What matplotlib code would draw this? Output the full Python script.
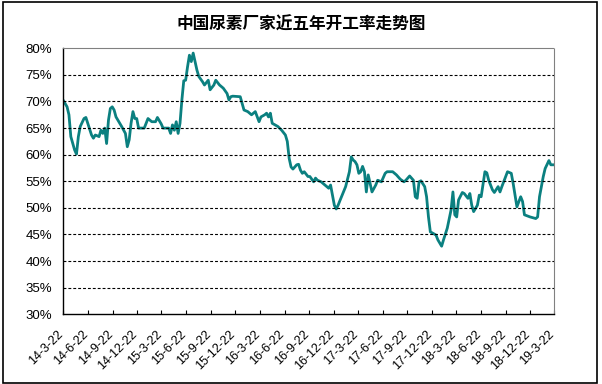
import numpy as np
import pandas as pd
import matplotlib
matplotlib.use("Agg")
import matplotlib.pyplot as plt
import matplotlib.transforms as mtransforms
from matplotlib.patches import Rectangle

plt.rcParams['font.family'] = ['Liberation Sans', 'DejaVu Sans']

# weekly operating rate, weeks counted from the first observation
start = pd.Timestamp('2014-03-22')
weeks = [0, 2, 3, 4, 6, 7, 8, 9, 11, 12, 13, 15, 16, 17, 19, 20, 21, 22, 23, 24,
         25, 26, 27, 28, 29, 31, 33, 34, 35, 36, 37, 38, 39, 40, 43, 44, 45, 47, 49, 50,
         52, 53, 56, 57, 58, 59, 60, 61, 62, 63, 64, 65, 66, 67, 68, 69, 70, 71, 72, 74,
         75, 77, 78, 80, 81, 83, 85, 87, 88, 89, 90, 94, 96, 98, 100, 102, 104, 105, 107, 108,
         109, 110, 111, 114, 116, 118, 119, 120, 121, 122, 124, 125, 126, 127, 128, 130, 131, 133, 134, 135,
         137, 139, 141, 142, 143, 144, 145, 146, 147, 150, 152, 153, 154, 155, 156, 157, 158, 159, 160, 161,
         162, 164, 166, 167, 169, 171, 172, 175, 177, 179, 181, 182, 184, 186, 187, 188, 189, 190, 192, 193,
         194, 195, 198, 199, 201, 202, 204, 206, 207, 208, 209, 210, 212, 213, 215, 216, 217, 218, 220, 221,
         222, 224, 225, 226, 228, 229, 231, 232, 233, 235, 236, 238, 239, 241, 243, 244, 245, 248, 251, 252,
         253, 255, 256, 258, 259, 260]
rate = [70.2, 69.0, 67.5, 63.4, 60.9, 60.1, 63.4, 65.3, 66.8, 67.0, 65.9, 63.7, 63.1, 63.7, 63.4, 64.6, 64.0, 65.0, 62.1, 66.5,
        68.7, 69.0, 68.4, 67.1, 66.5, 65.3, 64.0, 61.5, 62.8, 65.9, 68.1, 66.8, 66.8, 65.0, 65.0, 65.9, 66.8, 66.2, 66.2, 67.0,
        65.8, 65.0, 65.0, 64.0, 65.6, 64.6, 66.2, 64.0, 65.9, 70.3, 73.9, 74.0, 76.5, 78.7, 77.5, 79.1, 77.5, 75.9, 74.7, 73.7,
        73.1, 74.0, 72.2, 73.1, 74.0, 73.1, 72.5, 71.5, 70.3, 70.9, 71.0, 70.9, 68.4, 68.1, 67.5, 68.1, 66.2, 67.1, 67.5, 67.8,
        67.1, 67.8, 65.9, 65.3, 64.6, 63.7, 62.5, 59.3, 57.7, 57.3, 58.1, 58.2, 57.1, 56.5, 56.8, 55.9, 55.9, 54.9, 55.6, 55.2,
        54.9, 54.3, 53.7, 54.3, 52.4, 50.5, 49.8, 50.5, 51.4, 54.0, 56.8, 59.6, 59.0, 58.7, 58.1, 56.5, 56.8, 57.8, 56.8, 53.0,
        56.2, 53.0, 54.3, 55.2, 54.9, 56.5, 56.8, 56.8, 56.2, 55.4, 54.9, 55.2, 56.0, 55.2, 52.1, 51.8, 54.9, 55.1, 54.0, 52.1,
        48.3, 45.5, 44.9, 44.0, 42.8, 44.0, 46.2, 49.6, 53.0, 48.7, 48.3, 51.5, 52.9, 52.7, 51.8, 52.7, 50.5, 49.3, 50.5, 52.4,
        52.1, 56.8, 56.6, 55.2, 53.4, 52.9, 54.0, 53.0, 54.0, 55.9, 56.8, 56.5, 54.6, 50.2, 52.1, 51.2, 48.7, 48.3, 48.0, 48.3,
        52.1, 55.9, 57.4, 58.9, 58.1, 58.1]

tick_labels = ['14-3-22', '14-6-22', '14-9-22', '14-12-22', '15-3-22', '15-6-22', '15-9-22',
               '15-12-22', '16-3-22', '16-6-22', '16-9-22', '16-12-22', '17-3-22', '17-6-22',
               '17-9-22', '17-12-22', '18-3-22', '18-6-22', '18-9-22', '18-12-22', '19-3-22']
y_ticks = [30, 35, 40, 45, 50, 55, 60, 65, 70, 75, 80]

title = '中国尿素厂家近五年开工率走势图'

dates = start + pd.to_timedelta(np.array(weeks) * 7, unit='D')
tick_dates = pd.to_datetime(tick_labels, format='%y-%m-%d')

fig = plt.figure(figsize=(6.02, 3.84), dpi=100)
fig.patches.append(Rectangle((3 / 602, 1 / 384), 594 / 602, 381 / 384, transform=fig.transFigure,
                             fill=False, edgecolor='black', linewidth=1.2))

ax = fig.add_axes([63.3 / 602, 1 - 314.3 / 384, 491 / 602, 266 / 384])
ax.plot(dates, rate, color='#0b8080', linewidth=2.0, solid_joinstyle='round')

ax.set_ylim(30, 80)
ax.set_yticks(y_ticks)
ax.set_yticklabels([f'{v}%' for v in y_ticks], fontsize=9.5)
ax.tick_params(axis='y', length=0, pad=8)
for v in y_ticks[1:-1]:
    ax.axhline(v, color='black', linestyle=(0, (2.6, 1.8)), linewidth=0.8)

ax.set_xlim(tick_dates[0], tick_dates[-1])
ax.set_xticks(tick_dates)
ax.set_xticklabels(tick_labels, rotation=45, ha='right', va='top', rotation_mode='anchor', fontsize=9)
ax.tick_params(axis='x', direction='in', length=3, width=0.8, pad=10)
shift = mtransforms.ScaledTranslation(-6 / 100, 0, fig.dpi_scale_trans)
for lbl in ax.get_xticklabels():
    lbl.set_transform(lbl.get_transform() + shift)

for s in ['left', 'bottom']:
    ax.spines[s].set_color('black')
    ax.spines[s].set_linewidth(1.0)
for s in ['top', 'right']:
    ax.spines[s].set_color('#808080')
    ax.spines[s].set_linestyle((0, (1, 1)))
    ax.spines[s].set_linewidth(0.8)

fig.text(0.5, 1 - 25 / 384, title, ha='center', va='center', fontsize=12, fontweight='bold',
         family=['Noto Sans CJK SC', 'DejaVu Sans'])

fig.savefig('out.png', dpi=100)
